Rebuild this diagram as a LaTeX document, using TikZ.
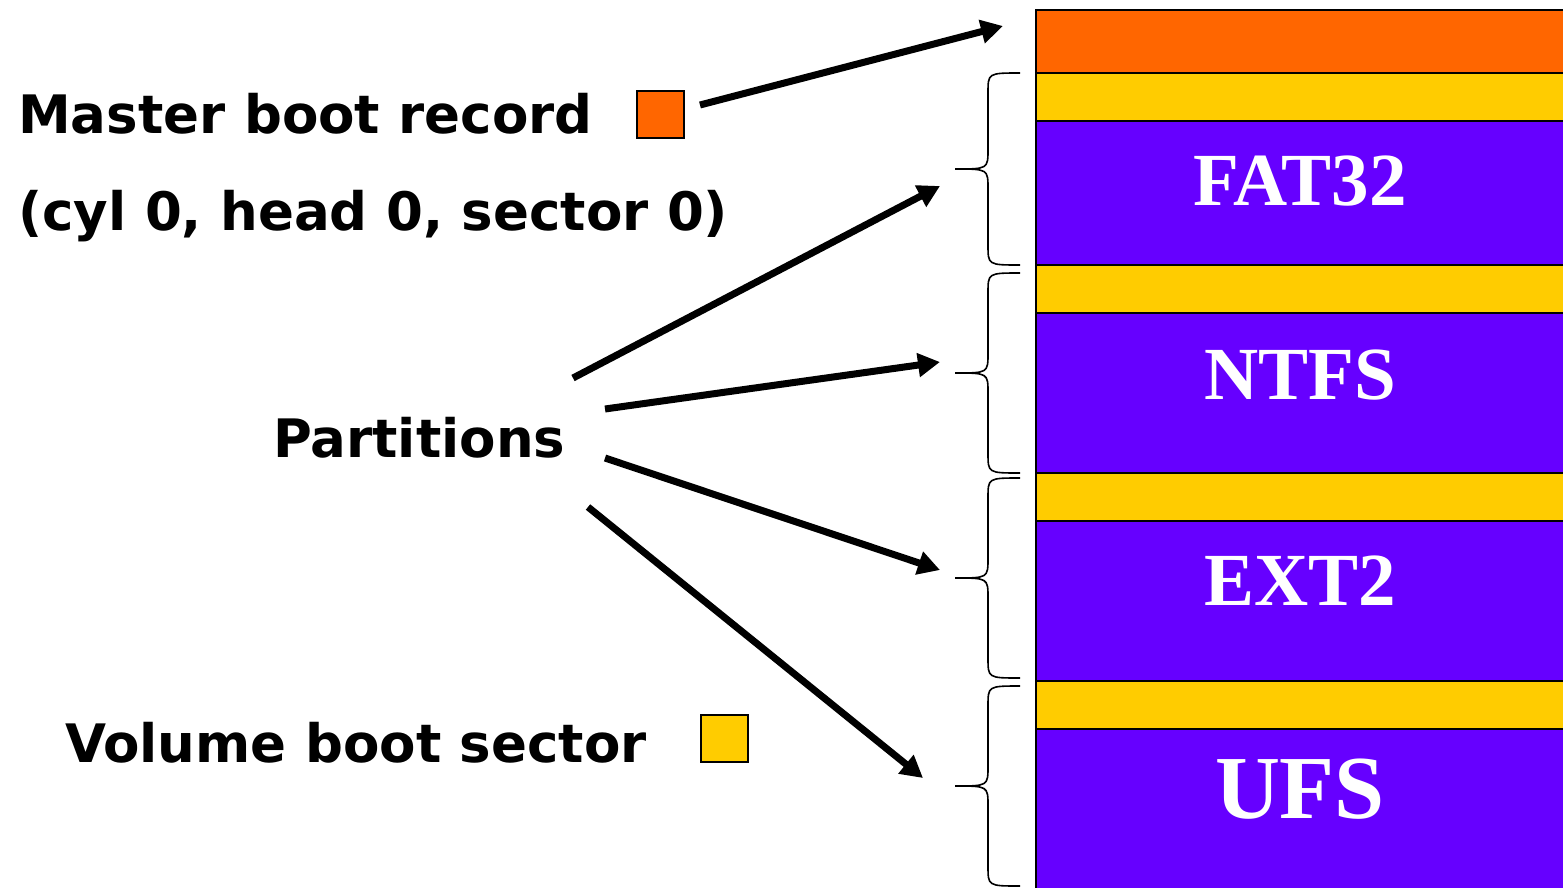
\documentclass[tikz,border=0pt]{standalone}
\usepackage{fontspec}
\setmainfont{DejaVu Sans}
\newfontfamily\fsfont{Liberation Serif}
\usetikzlibrary{arrows.meta}
\definecolor{mbr}{HTML}{FF6600}
\definecolor{vbs}{HTML}{FFCC00}
\definecolor{part}{HTML}{6600FF}
\tikzset{
  band/.style={draw=black, line width=2pt},
  lbl/.style={anchor=base west, inner sep=0pt, font=\bfseries\fontsize{53}{56}\selectfont},
  fslbl/.style={anchor=base, inner sep=0pt, text=white, font=\fsfont\bfseries\fontsize{75}{78}\selectfont},
  bigfs/.style={fslbl, font=\fsfont\bfseries\fontsize{90}{94}\selectfont},
  arr/.style={line width=7pt, -{Triangle[length=22pt,width=23pt]}},
  brc/.style={line width=1.6pt},
  swatch/.style={draw=black, line width=2pt, minimum size=47pt, inner sep=0pt, anchor=north west}
}
\newcommand\pbrace[2]{%
  \draw[brc] (1020,#1) .. controls (988,#1) .. (988,#1+20) -- (988,{(#1+#2)/2-20})
    .. controls (988,{(#1+#2)/2}) .. (955,{(#1+#2)/2})
    .. controls (988,{(#1+#2)/2}) .. (988,{(#1+#2)/2+20}) -- (988,#2-20)
    .. controls (988,#2) .. (1020,#2);}
\begin{document}
\begin{tikzpicture}[x=1pt,y=-1pt]
\useasboundingbox (0,0) rectangle (1563,887);
% bands
\filldraw[band, fill=mbr] (1036,10) rectangle (1575,73);
\filldraw[band, fill=vbs] (1036,73) rectangle (1575,121);
\filldraw[band, fill=part] (1036,121) rectangle (1575,265);
\filldraw[band, fill=vbs] (1036,265) rectangle (1575,313);
\filldraw[band, fill=part] (1036,313) rectangle (1575,473);
\filldraw[band, fill=vbs] (1036,473) rectangle (1575,521);
\filldraw[band, fill=part] (1036,521) rectangle (1575,681);
\filldraw[band, fill=vbs] (1036,681) rectangle (1575,729);
\filldraw[band, fill=part] (1036,729) rectangle (1575,900);
\node[fslbl] (fat) at (1300,205) {FAT32};
\node[fslbl] (ntfs) at (1300,399) {NTFS};
\node[fslbl] (ext) at (1300,605) {EXT2};
\node[bigfs] (ufs) at (1300,818) {UFS};
% braces
\pbrace{73}{265}
\pbrace{273}{473}
\pbrace{478}{678}
\pbrace{686}{886}
% labels
\node[lbl] (mbrl) at (18,133) {Master boot record};
\node[lbl] (cyl) at (18,230) {(cyl 0, head 0, sector 0)};
\node[lbl] (parts) at (273,457) {Partitions};
\node[lbl] (vbsl) at (65,762) {Volume boot sector};
\node[swatch, fill=mbr] (sqm) at (636,90) {};
\node[swatch, fill=vbs] (sqv) at (700,714) {};
% arrows
\coordinate (a0s) at (700,105); \coordinate (a0e) at (1003,26);
\coordinate (a1s) at (573,378); \coordinate (a1e) at (940,186);
\coordinate (a2s) at (605,409); \coordinate (a2e) at (940,362);
\coordinate (a3s) at (605,458); \coordinate (a3e) at (940,570);
\coordinate (a4s) at (588,507); \coordinate (a4e) at (923,778);
\draw[arr] (a0s) -- (a0e);
\draw[arr] (a1s) -- (a1e);
\draw[arr] (a2s) -- (a2e);
\draw[arr] (a3s) -- (a3e);
\draw[arr] (a4s) -- (a4e);
\end{tikzpicture}
\end{document}
